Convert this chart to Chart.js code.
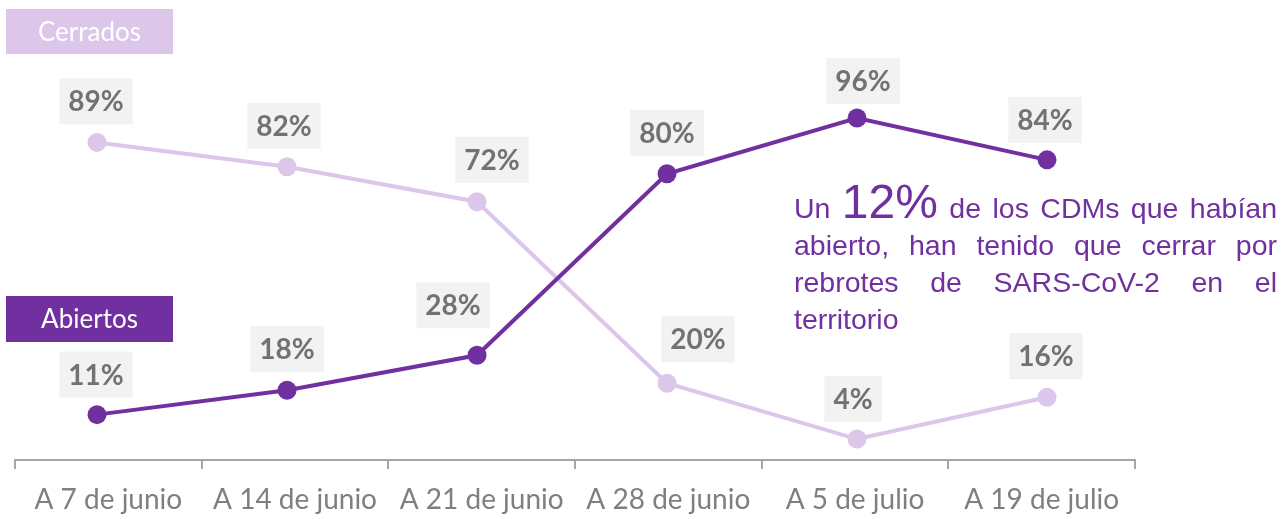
<!DOCTYPE html>
<html>
<head>
<meta charset="utf-8">
<script src="https://cdn.jsdelivr.net/npm/chart.js@4/dist/chart.umd.min.js"></script>
<style>
  html, body { margin: 0; padding: 0; background: #ffffff; }
  #wrap { width: 1283px; height: 519px; position: relative; }
</style>
</head>
<body>
<div id="wrap"><canvas id="c" width="1283" height="519"></canvas></div>
<script>
const categories = ["A 7 de junio", "A 14 de junio", "A 21 de junio", "A 28 de junio", "A 5 de julio", "A 19 de julio"];
const abiertos = [11, 18, 28, 80, 96, 84];
const cerrados = [89, 82, 72, 20, 4, 16];
const seriesNames = ["Abiertos", "Cerrados"];
const noteLines = [
  ["Un", "12%", "de", "los", "CDMs", "que", "habían"],
  ["abierto,", "han", "tenido", "que", "cerrar", "por"],
  ["rebrotes", "de", "SARS-CoV-2", "en", "el"],
  ["territorio"]
];
const noteBigWord = "12%";

const DARK = "#7030a0";
const LIGHT = "#dcc6ea";

const labelPlugin = {
  id: "boxLabels",
  afterDatasetsDraw(chart, args, opts) {
    const ctx = chart.ctx;
    ctx.save();
    ctx.font = "bold 28px Lato";
    ctx.textAlign = "center";
    ctx.textBaseline = "middle";
    chart.data.datasets.forEach((ds, di) => {
      const meta = chart.getDatasetMeta(di);
      const offs = opts.offsets[ds.label];
      meta.data.forEach((pt, i) => {
        const txt = ds.data[i].y + "%";
        const tw = ctx.measureText(txt).width;
        const w = tw + 18, h = 46;
        const cx = pt.x + offs[i][0], cy = pt.y + offs[i][1];
        ctx.fillStyle = "#f2f2f2";
        ctx.fillRect(cx - w / 2, cy - h / 2, w, h);
        ctx.fillStyle = "#767171";
        ctx.fillText(txt, cx, cy + 1);
      });
    });
    ctx.restore();
  }
};

const legendBoxPlugin = {
  id: "legendBoxes",
  afterDraw(chart, args, opts) {
    const ctx = chart.ctx;
    ctx.save();
    ctx.font = "26px Lato";
    ctx.textAlign = "center";
    ctx.textBaseline = "middle";
    opts.boxes.forEach(b => {
      const ds = chart.data.datasets.find(d => d.label === b.label);
      ctx.fillStyle = ds.borderColor;
      ctx.fillRect(b.x, b.y, b.w, b.h);
      ctx.fillStyle = "#ffffff";
      ctx.fillText(ds.label, b.x + b.w / 2, b.y + b.h / 2 + 1);
    });
    ctx.restore();
  }
};

const notePlugin = {
  id: "note",
  afterDraw(chart, args, opts) {
    const ctx = chart.ctx;
    ctx.save();
    ctx.fillStyle = DARK;
    ctx.textBaseline = "alphabetic";
    ctx.textAlign = "left";
    const small = "28.5px 'Liberation Sans', Arial, sans-serif";
    const big = "48px 'Liberation Sans', Arial, sans-serif";
    noteLines.forEach((words, li) => {
      const y = opts.top + li * opts.lineGap;
      const widths = words.map(w => { ctx.font = (w === noteBigWord) ? big : small; return ctx.measureText(w).width; });
      const total = widths.reduce((a, b) => a + b, 0);
      const last = li === noteLines.length - 1;
      ctx.font = small;
      const spaceW = ctx.measureText(" ").width;
      const gap = (!last && words.length > 1) ? (opts.right - opts.left - total) / (words.length - 1) : spaceW;
      let x = opts.left;
      words.forEach((w, wi) => {
        ctx.font = (w === noteBigWord) ? big : small;
        ctx.fillText(w, x, y);
        x += widths[wi] + gap;
      });
    });
    ctx.restore();
  }
};

new Chart(document.getElementById("c"), {
  type: "line",
  data: {
    labels: categories,
    datasets: [
      {
        label: seriesNames[0],
        data: abiertos.map((v, i) => ({ x: i, y: v })),
        borderColor: DARK,
        backgroundColor: DARK,
        pointBackgroundColor: DARK,
        borderWidth: 4,
        pointRadius: 9.5,
        pointBorderWidth: 0,
        xAxisID: "xd",
        order: 0
      },
      {
        label: seriesNames[1],
        data: cerrados.map((v, i) => ({ x: i, y: v })),
        borderColor: LIGHT,
        backgroundColor: LIGHT,
        pointBackgroundColor: LIGHT,
        borderWidth: 4,
        pointRadius: 9.5,
        pointBorderWidth: 0,
        xAxisID: "xd",
        order: 1
      }
    ]
  },
  options: {
    responsive: false,
    animation: false,
    layout: { padding: { top: 104, left: 15, right: 148, bottom: 0 } },
    plugins: {
      legend: { display: false },
      tooltip: { enabled: false },
      boxLabels: {
        offsets: {
          Abiertos: [[-1, -40], [0, -41], [-24, -50], [0, -41], [6, -37], [-2, -40]],
          Cerrados: [[-1, -41], [-3, -41], [15, -42], [31, -44], [-4, -40], [-1, -41]]
        }
      },
      legendBoxes: {
        boxes: [
          { label: "Cerrados", x: 6, y: 9, w: 167, h: 45 },
          { label: "Abiertos", x: 6, y: 296, w: 167, h: 46 }
        ]
      },
      note: { left: 794, right: 1277, top: 218, lineGap: 37 }
    },
    scales: {
      x: {
        type: "category",
        position: "bottom",
        offset: true,
        afterFit(scale) { scale.height = 59; },
        grid: { drawOnChartArea: false, drawTicks: true, tickLength: 9, color: "#a6a6a6", lineWidth: 2, offset: true },
        border: { display: true, color: "#a6a6a6", width: 2 },
        ticks: { color: "#7f7f7f", font: { family: "Lato", size: 28 }, padding: 14, maxRotation: 0, autoSkip: false }
      },
      xd: {
        type: "linear",
        display: false,
        min: -0.4316,
        max: 5.463
      },
      y: {
        display: false,
        min: -2,
        max: 100
      }
    }
  },
  plugins: [labelPlugin, legendBoxPlugin, notePlugin]
});
</script>
</body>
</html>
